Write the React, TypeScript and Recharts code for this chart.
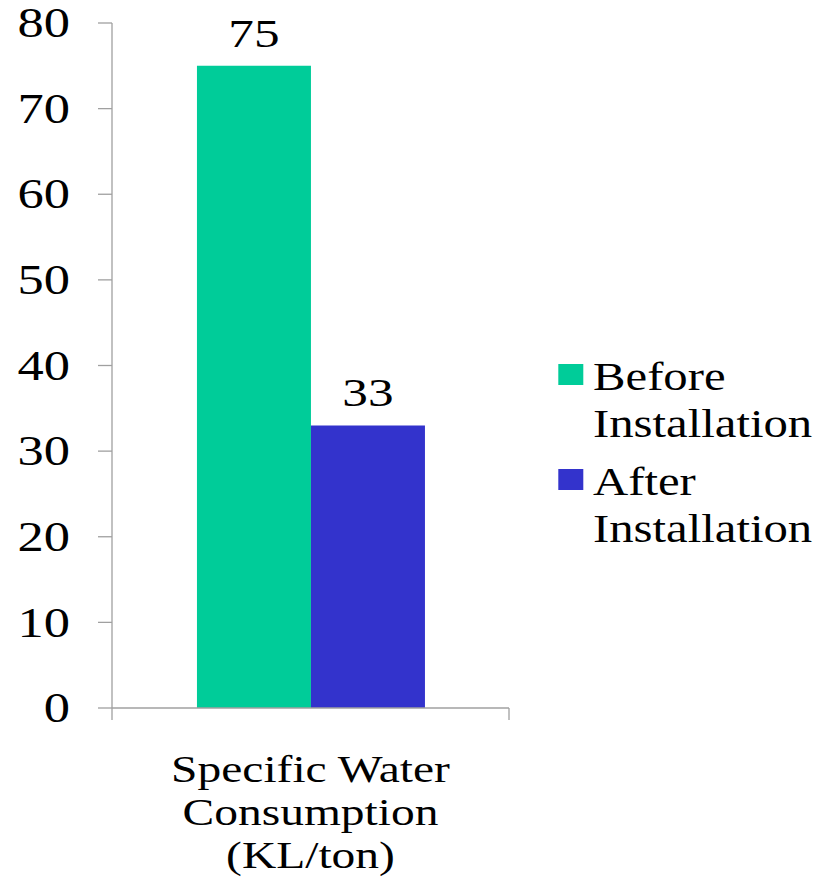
import React from "react";
import { BarChart, Bar, XAxis, YAxis, Legend } from "recharts";

// ---- data ----
const categories = ["Specific Water Consumption (KL/ton)"];
const categoryLabelLines = [["Specific Water", "Consumption", "(KL/ton)"]];
const seriesNames = ["Before Installation", "After Installation"];
const legendLines = [["Before", "Installation"], ["After", "Installation"]];
const beforeValues = [75];
const afterValues = [33];
const yTicks = [0, 10, 20, 30, 40, 50, 60, 70, 80];

const data = categories.map((c, i) => ({
  name: c,
  lines: categoryLabelLines[i],
  before: beforeValues[i],
  after: afterValues[i],
}));

// ---- style ----
const W = 831;
const H = 885;
const FONT = "'Liberation Serif', 'Times New Roman', serif";
const SX = 1.25;
const AXIS = "#A0A0A0";
const GREEN = "#00CC99";
const BLUE = "#3333CC";
const MARGIN = { top: 23, right: 322, bottom: 0, left: 0 };
const YAXIS_W = 112;
const PLOT_W = W - MARGIN.left - MARGIN.right - YAXIS_W;

const YTick = (props: any) => {
  const { x, y, payload } = props;
  return (
    <g transform={`translate(${x},${y}) scale(${SX},1)`}>
      <text x={0} y={0} dy={14.2} textAnchor="end" fontFamily={FONT} fontSize={42} fill="#000">
        {payload.value}
      </text>
    </g>
  );
};

const XTick = (props: any) => {
  const { x, y, payload, index } = props;
  const w = typeof props.width === "number" && props.width > 0 ? props.width : PLOT_W;
  const half = w / 2;
  const lines = data[index]?.lines ?? [payload.value];
  return (
    <g>
      <line x1={x - half} x2={x - half} y1={y} y2={y + 12} stroke={AXIS} strokeWidth={1.3} />
      <line x1={x + half} x2={x + half} y1={y} y2={y + 12} stroke={AXIS} strokeWidth={1.3} />
      <g transform={`translate(${x},${y}) scale(${SX},1)`}>
        <text textAnchor="middle" fontFamily={FONT} fontSize={38} fill="#000">
          {lines.map((l: string, i: number) => (
            <tspan key={i} x={0} y={74 + 43 * i}>
              {l}
            </tspan>
          ))}
        </text>
      </g>
    </g>
  );
};

const BarValueLabel = (props: any) => {
  const { x, y, width, value } = props;
  return (
    <g transform={`translate(${x + width / 2},${y - 19}) scale(${SX},1)`}>
      <text x={0} y={0} textAnchor="middle" fontFamily={FONT} fontSize={41} fill="#000">
        {value}
      </text>
    </g>
  );
};

const LegendContent = (props: any) => {
  const payload = [...(props.payload || [])].sort(
    (a: any, b: any) => seriesNames.indexOf(a.value) - seriesNames.indexOf(b.value)
  );
  return (
    <svg width={291} height={230} style={{ display: "block", overflow: "visible" }}>
      {payload.map((entry: any, i: number) => {
        const idx = seriesNames.indexOf(entry.value);
        const lines = legendLines[idx >= 0 ? idx : i];
        const top = 24 + i * 105;
        return (
          <g key={i}>
            <rect x={18.3} y={top} width={25} height={21} fill={entry.color} />
            <g transform={`translate(53,${top + 26}) scale(${SX},1)`}>
              <text fontFamily={FONT} fontSize={39} fill="#000">
                {lines.map((l: string, j: number) => (
                  <tspan key={j} x={0} y={j * 47}>
                    {l}
                  </tspan>
                ))}
              </text>
            </g>
          </g>
        );
      })}
    </svg>
  );
};

export default function App() {
  return (
    <div style={{ position: "absolute", left: 0, top: 0, width: W, height: H, background: "#fff" }}>
      <BarChart
        width={W}
        height={H}
        data={data}
        margin={MARGIN}
        barCategoryGap="21.4%"
        barGap={0}
      >
        <XAxis
          dataKey="name"
          height={177}
          tickLine={false}
          tickSize={0}
          tickMargin={0}
          axisLine={{ stroke: AXIS, strokeWidth: 1.3 }}
          tick={<XTick />}
          interval={0}
        />
        <YAxis
          width={YAXIS_W}
          domain={[0, 80]}
          ticks={yTicks}
          interval={0}
          tickSize={14}
          tickMargin={28}
          axisLine={{ stroke: AXIS, strokeWidth: 1.3 }}
          tickLine={{ stroke: AXIS, strokeWidth: 1.3 }}
          tick={<YTick />}
        />
        <Legend
          layout="horizontal"
          verticalAlign="middle"
          align="center"
          content={<LegendContent />}
          wrapperStyle={{ position: "absolute", left: 540, top: 340, width: 291, height: 230 }}
        />
        <Bar
          dataKey="before"
          name={seriesNames[0]}
          fill={GREEN}
          isAnimationActive={false}
          label={<BarValueLabel />}
        />
        <Bar
          dataKey="after"
          name={seriesNames[1]}
          fill={BLUE}
          isAnimationActive={false}
          label={<BarValueLabel />}
        />
      </BarChart>
    </div>
  );
}
